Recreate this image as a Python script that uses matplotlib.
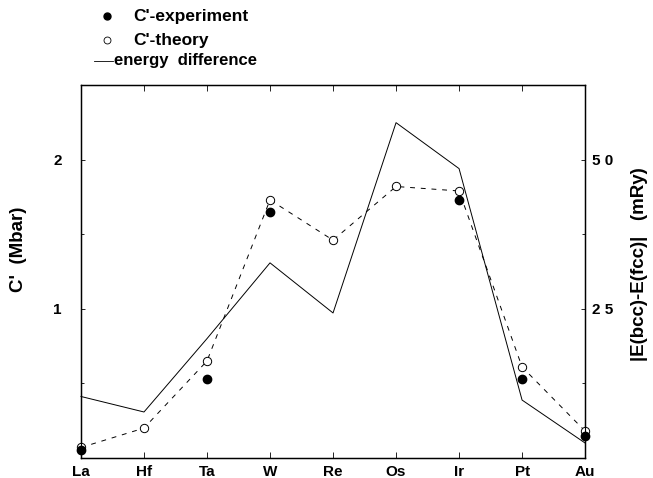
import matplotlib
matplotlib.use("Agg")
import matplotlib.pyplot as plt
from matplotlib.lines import Line2D
import numpy as np

plt.rcParams['font.family'] = ['Liberation Sans', 'DejaVu Sans']

# data
elements = ['La', 'Hf', 'Ta', 'W', 'Re', 'Os', 'Ir', 'Pt', 'Au']
exp_elements = ['La', 'Ta', 'W', 'Ir', 'Pt', 'Au']
c_experiment = [0.05, 0.53, 1.65, 1.73, 0.53, 0.15]
c_theory = [0.07, 0.20, 0.65, 1.73, 1.46, 1.82, 1.79, 0.61, 0.18]
energy_diff = [10.3, 7.7, 20.0, 32.7, 24.3, 56.2, 48.5, 9.7, 2.5]  # mRy

x = np.arange(len(elements))
x_exp = [elements.index(e) for e in exp_elements]

fig = plt.figure(figsize=(6.53, 4.78), dpi=100)
ax = fig.add_axes([0.124, 0.042, 0.772, 0.780])

# theory: open circles joined by a dashed line
ax.plot(x, c_theory, color='black', linestyle=(0, (5, 6)), linewidth=0.7,
        marker='o', markersize=6, markerfacecolor='white',
        markeredgewidth=0.7, clip_on=False, zorder=3)
# experiment: filled dots
ax.plot(x_exp, c_experiment, linestyle='none', marker='o', markersize=6,
        color='black', clip_on=False, zorder=4)

ax.set_xlim(0, len(elements) - 1)
ax.set_ylim(0, 2.5)
ax.set_xticks(x)
ax.set_xticklabels(elements, fontsize=11, fontweight='bold')
ax.set_yticks([1, 2])
ax.set_yticklabels(['1', '2'], fontsize=11, fontweight='bold')
ax.set_yticks([0.5, 1.5], minor=True)
ax.tick_params(axis='x', top=True, direction='in', length=4, pad=5, width=0.6)
ax.tick_params(axis='y', which='both', direction='in', length=3, pad=14, width=0.6)
ax.tick_params(axis='y', which='minor', length=2)
ax.set_ylabel("C'  (Mbar)", fontsize=13.5, fontweight='bold')
ax.yaxis.set_label_coords(-0.107, 0.56)
for s in ax.spines.values():
    s.set_linewidth(1.0)

# second axis: energy difference
ax2 = ax.twinx()
ax2.plot(x, energy_diff, color='black', linewidth=0.7, clip_on=False)
ax2.set_ylim(0, 62.5)
ax2.set_yticks([25, 50])
ax2.set_yticklabels(['2 5', '5 0'], fontsize=11, fontweight='bold')
ax2.set_yticks([12.5, 37.5], minor=True)
ax2.tick_params(axis='y', which='both', direction='in', length=3, pad=5, width=0.6)
ax2.tick_params(axis='y', which='minor', length=2)
ax2.set_ylabel('|E(bcc)-E(fcc)|   (mRy)', fontsize=13.5, fontweight='bold')
ax2.yaxis.set_label_coords(1.092, 0.52)

# legend above the axes
fig.add_artist(Line2D([107 / 653], [1 - 16 / 478], marker='o', markersize=5,
                      color='black', linestyle='none'))
fig.text(133 / 653, 1 - 16 / 478, "C'-experiment", fontsize=12.5,
         fontweight='bold', va='center')
fig.add_artist(Line2D([107 / 653], [1 - 40 / 478], marker='o', markersize=5,
                      markerfacecolor='white', markeredgewidth=0.6,
                      color='black', linestyle='none'))
fig.text(133 / 653, 1 - 40 / 478, "C'-theory", fontsize=12.5,
         fontweight='bold', va='center')
fig.add_artist(Line2D([94 / 653, 113 / 653], [1 - 61 / 478, 1 - 61 / 478],
                      color='black', linewidth=0.6))
fig.text(114 / 653, 1 - 61 / 478, 'energy  difference', fontsize=12,
         fontweight='bold', va='center')

fig.savefig('out.png', dpi=100)
